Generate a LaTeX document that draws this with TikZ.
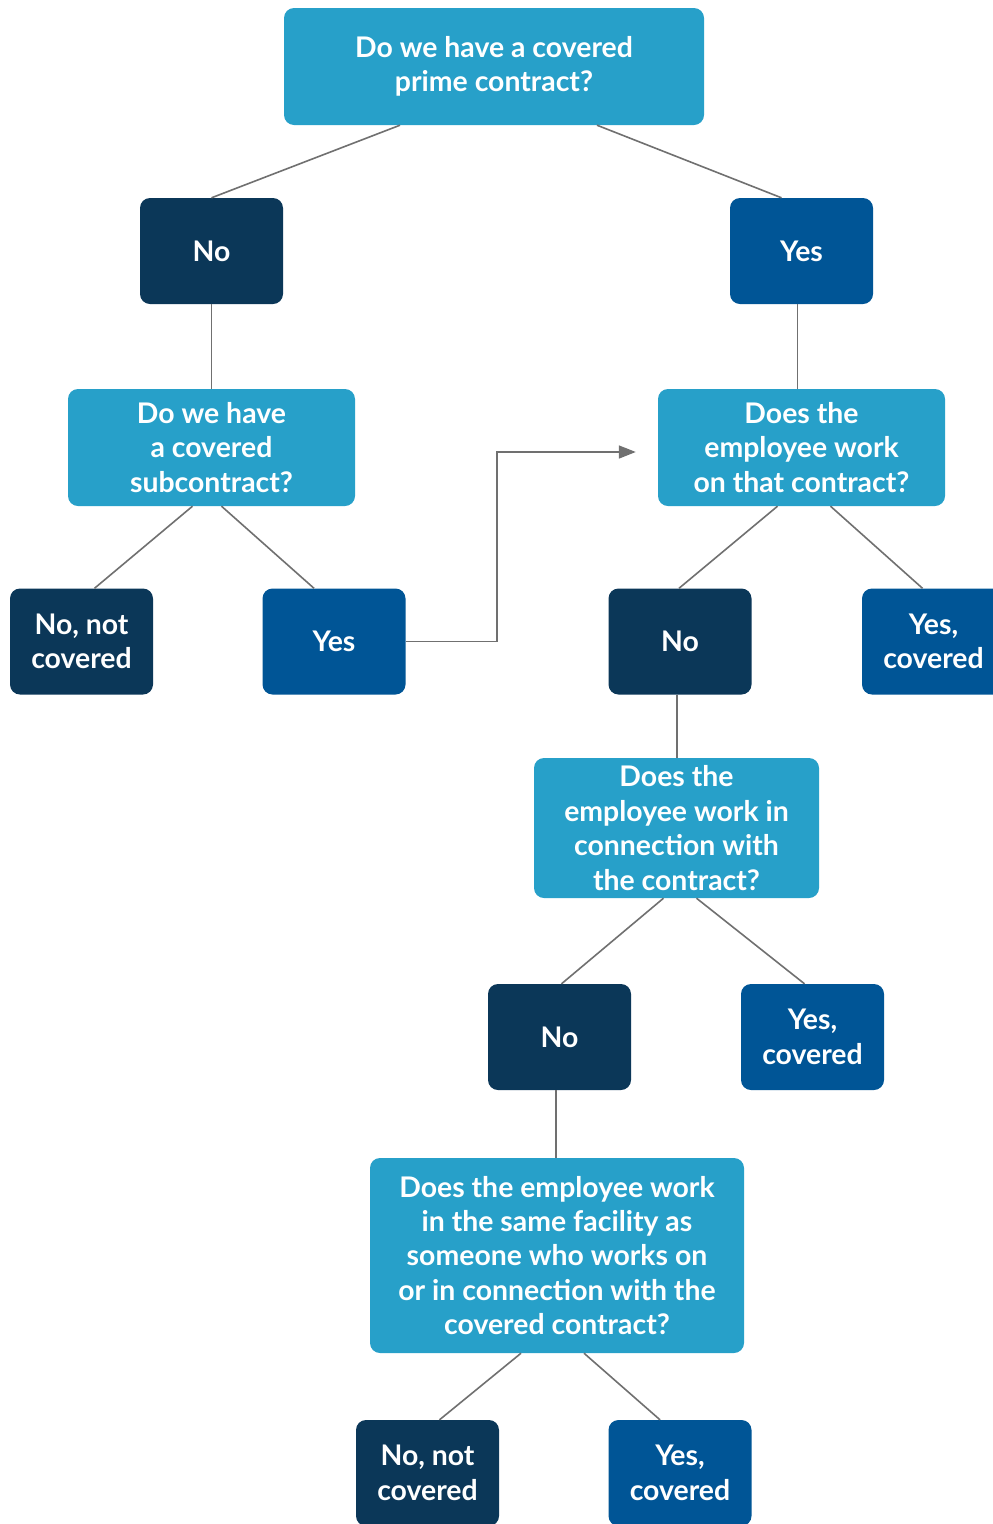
\documentclass[tikz,border=0pt]{standalone}
\usepackage{fontspec}
\setmainfont{Lato}
\usepackage{tikz}
\usetikzlibrary{arrows.meta, positioning}
\usetikzlibrary{calc}
\definecolor{QuestionBlue}{HTML}{27A0C9}
\definecolor{NoNavy}{HTML}{0B3758}
\definecolor{YesBlue}{HTML}{005596}
\definecolor{LinkGrey}{HTML}{707070}

\begin{document}
\begin{tikzpicture}[
        x=1pt, y=-1pt,
        every node/.style={align=center, text=white, font=\fontsize{28.4}{34.4}\selectfont\bfseries},
        box/.style={rounded corners=10pt, inner sep=0pt},
        qbox/.style={box, fill=QuestionBlue},
        nobox/.style={box, fill=NoNavy, minimum width=143pt, minimum height=106pt},
        yesbox/.style={box, fill=YesBlue, minimum width=143pt, minimum height=106pt},
        link/.style={draw=LinkGrey, line width=1.6pt},
        arrow/.style={link, -{Triangle[length=17pt, width=13pt]}}
    ]
        \clip (0,0) rectangle (993,1524);
        \fill[white] (0,0) rectangle (993,1524);

        % questions
        \node[qbox, minimum width=420pt, minimum height=117pt] (prime) at (494,66.5) {Do we have a covered\\prime contract?};
        \node[qbox, minimum width=287pt, minimum height=117pt] (sub) at (211.5,447.5) {Do we have\\a covered\\subcontract?};
        \node[qbox, minimum width=287pt, minimum height=117pt] (work) at (801.5,447.5) {Does the\\employee work\\on that contract?};
        \node[qbox, minimum width=285pt, minimum height=140pt] (conn) at (676.5,828) {Does the\\employee work in\\connection with\\the contract?};
        \node[qbox, minimum width=374pt, minimum height=195pt] (facility) at (557,1255.5) {Does the employee work\\in the same facility as\\someone who works on\\or in connection with the\\covered contract?};

        % answers
        \node[nobox] (primeno) at (211.5,251) {No};
        \node[yesbox] (primeyes) at (801.5,251) {Yes};
        \node[nobox] (subno) at (81.5,641.5) {No, not\\covered};
        \node[yesbox] (subyes) at (334,641.5) {Yes};
        \node[nobox] (workno) at (680,641.5) {No};
        \node[yesbox] (workyes) at (933.5,641.5) {Yes,\\covered};
        \node[nobox] (connno) at (559.5,1037) {No};
        \node[yesbox] (connyes) at (812.5,1037) {Yes,\\covered};
        \node[nobox] (facno) at (427.5,1473) {No, not\\covered};
        \node[yesbox] (facyes) at (680,1473) {Yes,\\covered};

        \draw[link] ([xshift=-94pt]prime.south) -- (primeno.north);
        \draw[link] ([xshift=103pt]prime.south) -- ([xshift=-20pt]primeyes.north);
        \draw[link] (primeno) -- (sub);
        \draw[link] ([xshift=-4pt]primeyes.south) -- ([xshift=-4pt]work.north);
        \draw[link] ([xshift=-19pt]sub.south) -- ([xshift=13pt]subno.north);
        \draw[link] ([xshift=10pt]sub.south) -- ([xshift=-20pt]subyes.north);
        \draw[arrow] (subyes.east) -| (497,452) -- ([xshift=-22pt,yshift=-4.5pt]work.west);
        \draw[link] ([xshift=-24pt]work.south) -- ([xshift=-1pt]workno.north);
        \draw[link] ([xshift=29pt]work.south) -- ([xshift=-11pt]workyes.north);
        \draw[link] ([xshift=-3pt]workno.south) -- ([xshift=0.5pt]conn.north);
        \draw[link] ([xshift=-13pt]conn.south) -- ([xshift=2pt]connno.north);
        \draw[link] ([xshift=20pt]conn.south) -- ([xshift=-8pt]connyes.north);
        \draw[link] ([xshift=-3.5pt]connno.south) -- ([xshift=-1pt]facility.north);
        \draw[link] ([xshift=-36pt]facility.south) -- ([xshift=12pt]facno.north);
        \draw[link] ([xshift=27pt]facility.south) -- ([xshift=-20pt]facyes.north);
    \end{tikzpicture}
\end{document}
